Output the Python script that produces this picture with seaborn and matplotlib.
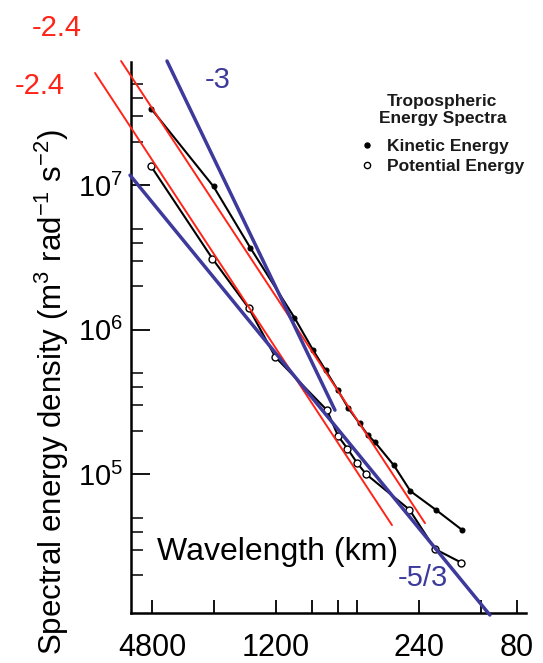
import matplotlib
matplotlib.use("Agg")
import matplotlib.pyplot as plt
import seaborn as sns
from matplotlib.lines import Line2D
from matplotlib.ticker import FixedLocator, FixedFormatter, NullFormatter

# ---------------- data ----------------
ke_wavelength = [4870, 2415, 1600, 974, 793, 686, 598, 531, 469, 427, 394, 319, 265, 198, 149]
ke_energy = [3.38e7, 9.77e6, 3.69e6, 1.21e6, 7.27e5, 5.22e5, 3.80e5, 2.85e5, 2.24e5,
             1.86e5, 1.66e5, 1.15e5, 7.63e4, 5.63e4, 4.13e4]

pe_wavelength = [4887, 2443, 1622, 1206, 676, 596, 537, 481, 436, 268, 201, 149.5]
pe_energy = [1.36e7, 3.09e6, 1.40e6, 6.45e5, 2.77e5, 1.83e5, 1.50e5, 1.19e5, 1.00e5,
             5.68e4, 3.03e4, 2.44e4]

# reference power-law lines (end points)
red_lower_wavelength = [9131, 326]
red_lower_energy = [5.96e7, 4.44e4]
red_upper_wavelength = [6817, 225]
red_upper_energy = [7.21e7, 4.58e4]
blue_m3_wavelength = [4071, 618]
blue_m3_energy = [7.21e7, 2.77e5]
blue_m53_wavelength = [6164, 108.6]
blue_m53_energy = [1.17e7, 1.06e4]

x_major_ticks = [4800, 1200, 240, 80]
x_major_labels = ["4800", "1200", "240", "80"]
x_minor_ticks = [2400, 800, 600, 480, 120]
y_major_ticks = [1e5, 1e6, 1e7]
y_major_labels = [r"$\mathregular{10^5}$", r"$\mathregular{10^6}$", r"$\mathregular{10^7}$"]
y_minor_ticks = [m * 10 ** n for n in range(4, 8) for m in (2, 3, 4, 5)]

series_labels = ["Kinetic Energy", "Potential Energy"]
legend_title = "Tropospheric\nEnergy Spectra"

# ---------------- style ----------------
sns.set_style("ticks")
plt.rcParams["font.family"] = ["Liberation Sans", "DejaVu Sans"]
plt.rcParams["mathtext.fontset"] = "custom"
plt.rcParams["mathtext.rm"] = "Liberation Sans"
plt.rcParams["mathtext.it"] = "Liberation Sans:italic"
plt.rcParams["mathtext.bf"] = "Liberation Sans:bold"

RED = "#ff2418"
BLUE = "#3d3a9c"

fig = plt.figure(figsize=(5.43, 6.63), dpi=100)
ax = fig.add_axes([0.2413, 0.0759, 0.7274, 0.8306])
ax.set_xscale("log")
ax.set_yscale("log")

# data series
sns.lineplot(x=ke_wavelength, y=ke_energy, ax=ax, color="black", lw=1.5, marker="o",
             markersize=3.6, markeredgecolor="black", sort=False, legend=False, zorder=3)
sns.lineplot(x=pe_wavelength, y=pe_energy, ax=ax, color="black", lw=1.5, marker="o",
             markersize=5, markerfacecolor="white", markeredgecolor="black",
             markeredgewidth=1.0, sort=False, legend=False, zorder=3)

# reference lines
sns.lineplot(x=red_lower_wavelength, y=red_lower_energy, ax=ax, color=RED, lw=1.4,
             sort=False, legend=False, clip_on=False, zorder=4)
sns.lineplot(x=red_upper_wavelength, y=red_upper_energy, ax=ax, color=RED, lw=1.4,
             sort=False, legend=False, clip_on=False, zorder=4)
sns.lineplot(x=blue_m3_wavelength, y=blue_m3_energy, ax=ax, color=BLUE, lw=2.5,
             sort=False, legend=False, clip_on=False, zorder=4)
sns.lineplot(x=blue_m53_wavelength, y=blue_m53_energy, ax=ax, color=BLUE, lw=2.5,
             sort=False, legend=False, clip_on=False, zorder=4)

ax.set_xlim(6096, 72.4)
ax.set_ylim(1.10e4, 7.1e7)

ax.xaxis.set_major_locator(FixedLocator(x_major_ticks))
ax.xaxis.set_major_formatter(FixedFormatter(x_major_labels))
ax.xaxis.set_minor_locator(FixedLocator(x_minor_ticks))
ax.xaxis.set_minor_formatter(NullFormatter())
ax.yaxis.set_major_locator(FixedLocator(y_major_ticks))
ax.yaxis.set_major_formatter(FixedFormatter(y_major_labels))
ax.yaxis.set_minor_locator(FixedLocator(y_minor_ticks))
ax.yaxis.set_minor_formatter(NullFormatter())

ax.tick_params(axis="x", which="both", direction="in", length=9.5, width=1.3,
               pad=14.5, labelsize=22, colors="black")
ax.tick_params(axis="y", which="major", direction="in", length=13.5, width=1.3,
               pad=6, labelsize=21, colors="black")
ax.tick_params(axis="y", which="minor", direction="in", length=8.5, width=1.3)

for s in ("top", "right"):
    ax.spines[s].set_visible(False)
for s in ("left", "bottom"):
    ax.spines[s].set_linewidth(1.8)
    ax.spines[s].set_color("black")

ax.set_xlabel("")
ax.set_ylabel("")

# axis titles
ax.text(0.372, 0.110, "Wavelength (km)", transform=ax.transAxes, ha="center",
        va="center", fontsize=23, color="black")
fig.text(52 / 543, 1 - 392 / 663,
         r"Spectral energy density (m$^3$ rad$^{-1}$ s$^{-2}$)",
         rotation=90, ha="center", va="center", fontsize=22.5, color="black")

# slope annotations
fig.text(57 / 543, 1 - 28 / 663, "-2.4", color=RED, fontsize=21, ha="center", va="center")
fig.text(40 / 543, 1 - 86 / 663, "-2.4", color=RED, fontsize=21, ha="center", va="center")
fig.text(218 / 543, 1 - 80 / 663, "-3", color=BLUE, fontsize=21, ha="center", va="center")
fig.text(423 / 543, 1 - 578 / 663, "-5/3", color=BLUE, fontsize=21, ha="center", va="center")

# legend
handles = [
    Line2D([], [], ls="none", marker="o", markersize=3.6, color="black"),
    Line2D([], [], ls="none", marker="o", markersize=4.5, markerfacecolor="white",
           markeredgecolor="black", markeredgewidth=1.0),
]
leg = ax.legend(handles, series_labels, title=legend_title, frameon=False,
                loc="upper left", bbox_to_anchor=(352 / 543, 1 - 85 / 663),
                bbox_transform=fig.transFigure, borderpad=0, handlelength=0.7,
                handletextpad=0.8, labelspacing=0.3,
                prop={"weight": "bold", "size": 12.5},
                title_fontproperties={"weight": "bold", "size": 12.5})
leg.get_title().set_multialignment("center")
leg._legend_box.sep = 9
for t in leg.get_texts():
    t.set_color("#1a1a1a")
leg.get_title().set_color("#1a1a1a")

fig.savefig("out.png", dpi=100)
